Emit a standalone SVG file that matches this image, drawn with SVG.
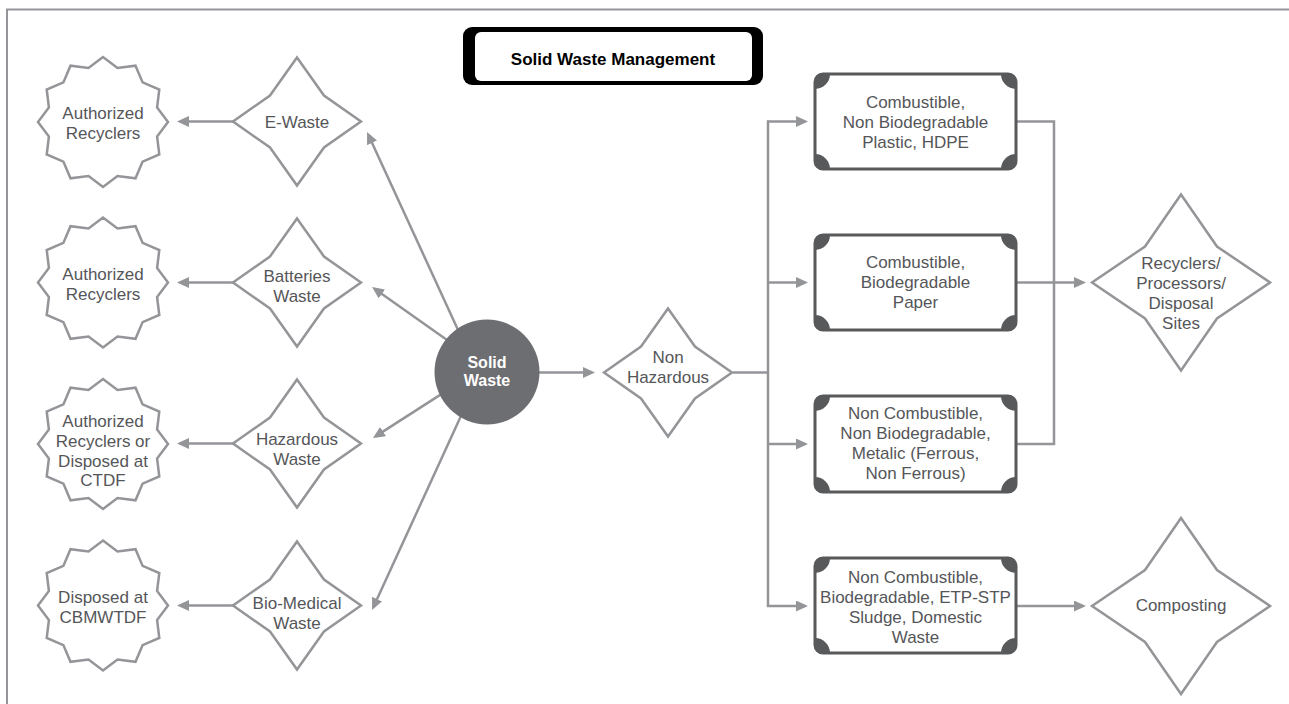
<svg xmlns="http://www.w3.org/2000/svg" xmlns:xlink="http://www.w3.org/1999/xlink" width="1289" height="704" viewBox="0 0 1289 704">
<style>
.t{font-family:"Liberation Sans",Arial,sans-serif;font-size:17px;fill:#555659;text-anchor:middle}
.shape{fill:#fff;stroke:#939598;stroke-width:2.5;stroke-linejoin:miter}
.box{fill:#fff;stroke:#58595b;stroke-width:3}
.blob{fill:#58595b}
.c{fill:none;stroke:#939598;stroke-width:2.5}
.a{marker-end:url(#ah)}
</style>
<defs>
<marker id="ah" markerUnits="userSpaceOnUse" markerWidth="12" markerHeight="11" refX="9" refY="5.5" orient="auto">
<path d="M0,0 L12,5.5 L0,11 Z" fill="#939598"/>
</marker>
<path id="star" d="M65,0 L54.09,14.49 L56.29,32.5 L39.6,39.6 L32.5,56.29 L14.49,54.09 L0,65 L-14.49,54.09 L-32.5,56.29 L-39.6,39.6 L-56.29,32.5 L-54.09,14.49 L-65,0 L-54.09,-14.49 L-56.29,-32.5 L-39.6,-39.6 L-32.5,-56.29 L-14.49,-54.09 L0,-65 L14.49,-54.09 L32.5,-56.29 L39.6,-39.6 L56.29,-32.5 L54.09,-14.49 Z"/>
<path id="dia" d="M0,-64 L27,-26 L64,0 L27,26 L0,64 L-27,26 L-64,0 L-27,-26 Z"/>
<path id="bigdia" d="M0,-88 L36,-36 L89,0 L36,36 L0,88 L-36,36 L-89,0 L-36,-36 Z"/>
<path id="blob" d="M0,15 L0,8 A8 8 0 0 1 8,0 L15,0 A15 15 0 0 1 0,15 Z"/>
</defs>
<rect x="7" y="9.5" width="1300" height="720" fill="none" stroke="#939598" stroke-width="2"/>

<g id="connectors">
<line class="c a" x1="233" y1="121.5" x2="180" y2="121.5"/>
<line class="c a" x1="233" y1="282.5" x2="180" y2="282.5"/>
<line class="c a" x1="233" y1="443.5" x2="180" y2="443.5"/>
<line class="c a" x1="233" y1="605.5" x2="180" y2="605.5"/>
<line class="c a" x1="459.3" y1="332.7" x2="368.3" y2="134.7"/>
<line class="c a" x1="449.5" y1="341.7" x2="374.5" y2="288.7"/>
<line class="c a" x1="442.5" y1="393.4" x2="375.5" y2="436.4"/>
<line class="c a" x1="461.3" y1="415.3" x2="373.3" y2="607.3"/>
<line class="c a" x1="538" y1="372.5" x2="592" y2="372.5"/>
<line class="c" x1="733" y1="372.5" x2="769" y2="372.5"/>
<line class="c" x1="768" y1="120.5" x2="768" y2="607"/>
<line class="c a" x1="767" y1="121.5" x2="805" y2="121.5"/>
<line class="c a" x1="767" y1="282.5" x2="805" y2="282.5"/>
<line class="c a" x1="767" y1="444" x2="805" y2="444"/>
<line class="c a" x1="767" y1="606" x2="805" y2="606"/>
<polyline class="c" points="1017,121.5 1054,121.5 1054,444 1017,444"/>
<line class="c a" x1="1017" y1="282.5" x2="1083" y2="282.5"/>
<line class="c a" x1="1017" y1="606" x2="1083" y2="606"/>
</g>

<g id="title">
<rect x="463" y="27" width="300" height="58" rx="9" fill="#000"/>
<rect x="475" y="32" width="277" height="49" rx="6" fill="#fff"/>
<text x="613" y="65" style="font-family:'Liberation Sans',Arial,sans-serif;font-size:17px;font-weight:bold;fill:#000;text-anchor:middle">Solid Waste Management</text>
</g>

<g id="star1"><use xlink:href="#star" href="#star" x="103" y="122" class="shape"/>
<text class="t"><tspan x="103" y="119">Authorized</tspan><tspan x="103" y="139">Recyclers</tspan></text></g>
<g id="star2"><use xlink:href="#star" href="#star" x="103" y="282.5" class="shape"/>
<text class="t"><tspan x="103" y="280">Authorized</tspan><tspan x="103" y="300">Recyclers</tspan></text></g>
<g id="star3"><use xlink:href="#star" href="#star" x="103" y="444" class="shape"/>
<text class="t"><tspan x="103" y="427">Authorized</tspan><tspan x="103" y="447">Recyclers or</tspan><tspan x="103" y="467">Disposed at</tspan><tspan x="103" y="486">CTDF</tspan></text></g>
<g id="star4"><use xlink:href="#star" href="#star" x="103" y="605.5" class="shape"/>
<text class="t"><tspan x="103" y="603">Disposed at</tspan><tspan x="103" y="623">CBMWTDF</tspan></text></g>

<g id="ewaste"><use xlink:href="#dia" href="#dia" x="297" y="121.5" class="shape"/>
<text class="t" x="297" y="128">E-Waste</text></g>
<g id="batteries"><use xlink:href="#dia" href="#dia" x="297" y="282.5" class="shape"/>
<text class="t"><tspan x="297" y="282">Batteries</tspan><tspan x="297" y="302">Waste</tspan></text></g>
<g id="hazardous"><use xlink:href="#dia" href="#dia" x="297" y="443.5" class="shape"/>
<text class="t"><tspan x="297" y="445">Hazardous</tspan><tspan x="297" y="465">Waste</tspan></text></g>
<g id="biomedical"><use xlink:href="#dia" href="#dia" x="297" y="605.5" class="shape"/>
<text class="t"><tspan x="297" y="609">Bio-Medical</tspan><tspan x="297" y="629">Waste</tspan></text></g>

<g id="solidwaste"><circle cx="487" cy="372" r="52.5" fill="#6d6e71"/>
<text style="font-family:'Liberation Sans',Arial,sans-serif;font-size:16px;font-weight:bold;fill:#fff;text-anchor:middle"><tspan x="487" y="368">Solid</tspan><tspan x="487" y="386">Waste</tspan></text></g>

<g id="nonhaz"><use xlink:href="#dia" href="#dia" x="668" y="372.5" class="shape"/>
<text class="t"><tspan x="668" y="363">Non</tspan><tspan x="668" y="383">Hazardous</tspan></text></g>

<g id="box1"><rect class="box" x="815" y="74" width="201" height="95" rx="8"/>
<use href="#blob" xlink:href="#blob" class="blob" transform="translate(815,74)"/>
<use href="#blob" xlink:href="#blob" class="blob" transform="translate(1016,74) scale(-1,1)"/>
<use href="#blob" xlink:href="#blob" class="blob" transform="translate(815,169) scale(1,-1)"/>
<use href="#blob" xlink:href="#blob" class="blob" transform="translate(1016,169) scale(-1,-1)"/>
<text class="t"><tspan x="915.5" y="108">Combustible,</tspan><tspan x="915.5" y="128">Non Biodegradable</tspan><tspan x="915.5" y="148">Plastic, HDPE</tspan></text></g>

<g id="box2"><rect class="box" x="815" y="235" width="201" height="95" rx="8"/>
<use href="#blob" xlink:href="#blob" class="blob" transform="translate(815,235)"/>
<use href="#blob" xlink:href="#blob" class="blob" transform="translate(1016,235) scale(-1,1)"/>
<use href="#blob" xlink:href="#blob" class="blob" transform="translate(815,330) scale(1,-1)"/>
<use href="#blob" xlink:href="#blob" class="blob" transform="translate(1016,330) scale(-1,-1)"/>
<text class="t"><tspan x="915.5" y="268">Combustible,</tspan><tspan x="915.5" y="288">Biodegradable</tspan><tspan x="915.5" y="308">Paper</tspan></text></g>

<g id="box3"><rect class="box" x="815" y="396" width="201" height="96" rx="8"/>
<use href="#blob" xlink:href="#blob" class="blob" transform="translate(815,396)"/>
<use href="#blob" xlink:href="#blob" class="blob" transform="translate(1016,396) scale(-1,1)"/>
<use href="#blob" xlink:href="#blob" class="blob" transform="translate(815,492) scale(1,-1)"/>
<use href="#blob" xlink:href="#blob" class="blob" transform="translate(1016,492) scale(-1,-1)"/>
<text class="t"><tspan x="915.5" y="419">Non Combustible,</tspan><tspan x="915.5" y="439">Non Biodegradable,</tspan><tspan x="915.5" y="459">Metalic (Ferrous,</tspan><tspan x="915.5" y="479">Non Ferrous)</tspan></text></g>

<g id="box4"><rect class="box" x="815" y="558" width="201" height="95" rx="8"/>
<use href="#blob" xlink:href="#blob" class="blob" transform="translate(815,558)"/>
<use href="#blob" xlink:href="#blob" class="blob" transform="translate(1016,558) scale(-1,1)"/>
<use href="#blob" xlink:href="#blob" class="blob" transform="translate(815,653) scale(1,-1)"/>
<use href="#blob" xlink:href="#blob" class="blob" transform="translate(1016,653) scale(-1,-1)"/>
<text class="t"><tspan x="915.5" y="583">Non Combustible,</tspan><tspan x="915.5" y="603">Biodegradable, ETP-STP</tspan><tspan x="915.5" y="623">Sludge, Domestic</tspan><tspan x="915.5" y="643">Waste</tspan></text></g>

<g id="recyclers"><use xlink:href="#bigdia" href="#bigdia" x="1181" y="282.5" class="shape"/>
<text class="t"><tspan x="1181" y="269">Recyclers/</tspan><tspan x="1181" y="289">Processors/</tspan><tspan x="1181" y="309">Disposal</tspan><tspan x="1181" y="329">Sites</tspan></text></g>

<g id="composting"><use xlink:href="#bigdia" href="#bigdia" x="1181" y="606" class="shape"/>
<text class="t" x="1181" y="611">Composting</text></g>
</svg>
